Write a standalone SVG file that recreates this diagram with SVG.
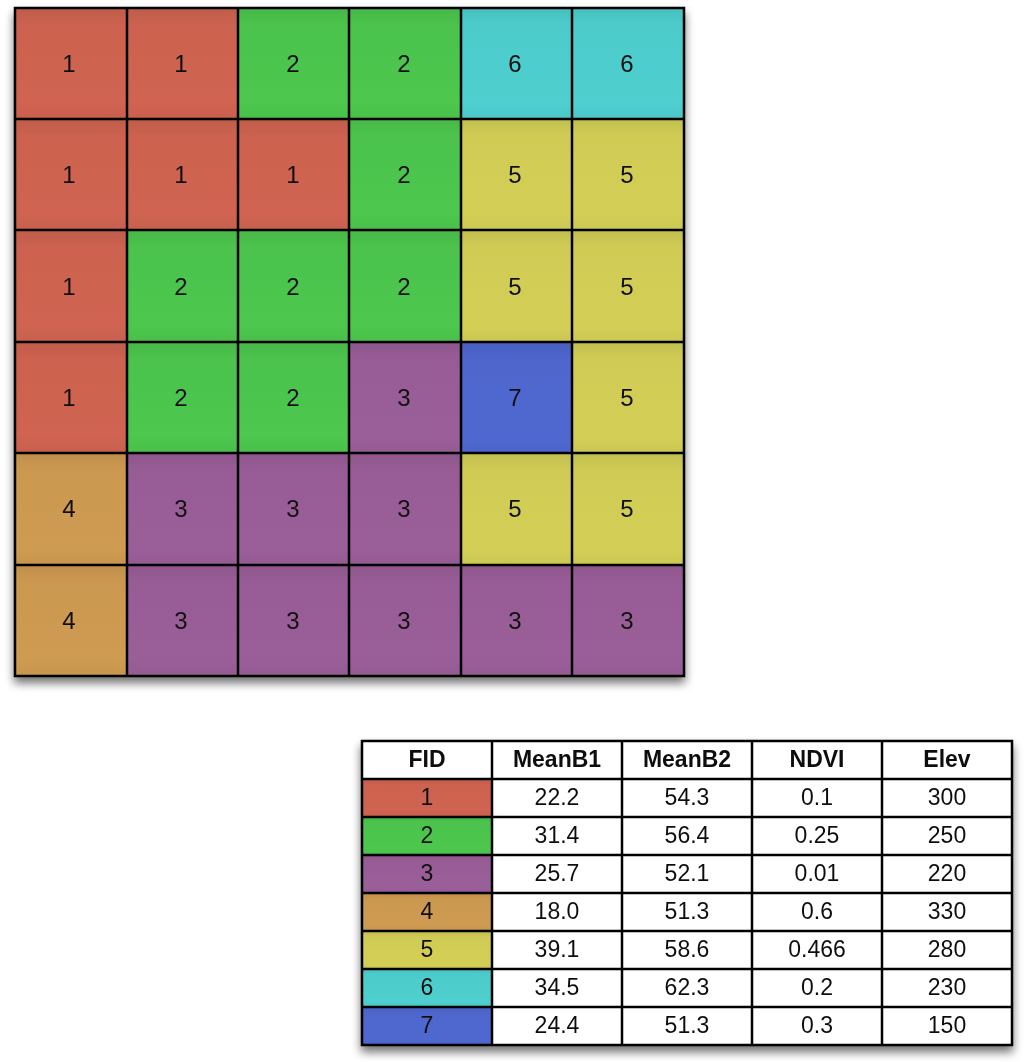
<svg xmlns="http://www.w3.org/2000/svg" width="1024" height="1062" viewBox="0 0 1024 1062">
<defs>
<filter id="shadow" x="-10%" y="-10%" width="120%" height="125%">
<feGaussianBlur in="SourceAlpha" stdDeviation="5"/>
<feOffset dx="0" dy="6"/>
<feComponentTransfer><feFuncA type="linear" slope="0.55"/></feComponentTransfer>
<feMerge><feMergeNode/><feMergeNode in="SourceGraphic"/></feMerge>
</filter>
<linearGradient id="shade" x1="0" y1="0" x2="0" y2="1">
<stop offset="0" stop-color="#000" stop-opacity="0.08"/>
<stop offset="0.15" stop-color="#000" stop-opacity="0.02"/>
<stop offset="0.85" stop-color="#000" stop-opacity="0"/>
<stop offset="1" stop-color="#000" stop-opacity="0.04"/>
</linearGradient>
</defs>
<style>
.c1{fill:#d06451}.c2{fill:#4dc74e}.c3{fill:#9a5e98}.c4{fill:#cf9b52}.c5{fill:#d3cf56}.c6{fill:#4fcfcf}.c7{fill:#5068d1}
.sh{fill:url(#shade)}
.ln{stroke:#000;stroke-width:2.5;fill:none}
.t{font-family:"Liberation Sans",Arial,sans-serif;font-size:24px;fill:#111;text-anchor:middle;dominant-baseline:central}
.s{font-size:23px}
.h{font-weight:bold}
.w{fill:#fff}
</style>
<g id="grid" filter="url(#shadow)">
<rect x="15" y="8" width="669" height="668" fill="#fff"/>
<g id="cells">
<rect class="c1" x="15" y="8" width="112" height="111"/><rect class="c1" x="127" y="8" width="111" height="111"/><rect class="c2" x="238" y="8" width="111" height="111"/><rect class="c2" x="349" y="8" width="112" height="111"/><rect class="c6" x="461" y="8" width="111" height="111"/><rect class="c6" x="572" y="8" width="112" height="111"/>
<rect class="c1" x="15" y="119" width="112" height="111"/><rect class="c1" x="127" y="119" width="111" height="111"/><rect class="c1" x="238" y="119" width="111" height="111"/><rect class="c2" x="349" y="119" width="112" height="111"/><rect class="c5" x="461" y="119" width="111" height="111"/><rect class="c5" x="572" y="119" width="112" height="111"/>
<rect class="c1" x="15" y="230" width="112" height="112"/><rect class="c2" x="127" y="230" width="111" height="112"/><rect class="c2" x="238" y="230" width="111" height="112"/><rect class="c2" x="349" y="230" width="112" height="112"/><rect class="c5" x="461" y="230" width="111" height="112"/><rect class="c5" x="572" y="230" width="112" height="112"/>
<rect class="c1" x="15" y="342" width="112" height="111"/><rect class="c2" x="127" y="342" width="111" height="111"/><rect class="c2" x="238" y="342" width="111" height="111"/><rect class="c3" x="349" y="342" width="112" height="111"/><rect class="c7" x="461" y="342" width="111" height="111"/><rect class="c5" x="572" y="342" width="112" height="111"/>
<rect class="c4" x="15" y="453" width="112" height="112"/><rect class="c3" x="127" y="453" width="111" height="112"/><rect class="c3" x="238" y="453" width="111" height="112"/><rect class="c3" x="349" y="453" width="112" height="112"/><rect class="c5" x="461" y="453" width="111" height="112"/><rect class="c5" x="572" y="453" width="112" height="112"/>
<rect class="c4" x="15" y="565" width="112" height="111"/><rect class="c3" x="127" y="565" width="111" height="111"/><rect class="c3" x="238" y="565" width="111" height="111"/><rect class="c3" x="349" y="565" width="112" height="111"/><rect class="c3" x="461" y="565" width="111" height="111"/><rect class="c3" x="572" y="565" width="112" height="111"/>
</g>
<g id="cellshade">
<rect class="sh" x="15" y="8" width="669" height="111"/>
<rect class="sh" x="15" y="119" width="669" height="111"/>
<rect class="sh" x="15" y="230" width="669" height="112"/>
<rect class="sh" x="15" y="342" width="669" height="111"/>
<rect class="sh" x="15" y="453" width="669" height="112"/>
<rect class="sh" x="15" y="565" width="669" height="111"/>
</g>
<g id="gridlines" class="ln">
<rect x="15" y="8" width="669" height="668"/>
<path d="M127 8V676M238 8V676M349 8V676M461 8V676M572 8V676M15 119H684M15 230H684M15 342H684M15 453H684M15 565H684"/>
</g>
<g id="labels">
<text class="t" x="69" y="63">1</text><text class="t" x="181" y="63">1</text><text class="t" x="293" y="63">2</text><text class="t" x="404" y="63">2</text><text class="t" x="515" y="63">6</text><text class="t" x="627" y="63">6</text>
<text class="t" x="69" y="174">1</text><text class="t" x="181" y="174">1</text><text class="t" x="293" y="174">1</text><text class="t" x="404" y="174">2</text><text class="t" x="515" y="174">5</text><text class="t" x="627" y="174">5</text>
<text class="t" x="69" y="286">1</text><text class="t" x="181" y="286">2</text><text class="t" x="293" y="286">2</text><text class="t" x="404" y="286">2</text><text class="t" x="515" y="286">5</text><text class="t" x="627" y="286">5</text>
<text class="t" x="69" y="397">1</text><text class="t" x="181" y="397">2</text><text class="t" x="293" y="397">2</text><text class="t" x="404" y="397">3</text><text class="t" x="515" y="397">7</text><text class="t" x="627" y="397">5</text>
<text class="t" x="69" y="508">4</text><text class="t" x="181" y="508">3</text><text class="t" x="293" y="508">3</text><text class="t" x="404" y="508">3</text><text class="t" x="515" y="508">5</text><text class="t" x="627" y="508">5</text>
<text class="t" x="69" y="620">4</text><text class="t" x="181" y="620">3</text><text class="t" x="293" y="620">3</text><text class="t" x="404" y="620">3</text><text class="t" x="515" y="620">3</text><text class="t" x="627" y="620">3</text>
</g>
</g>
<g id="table" filter="url(#shadow)">
<rect class="w" x="362" y="741" width="650" height="304"/>
<rect class="c1" x="362" y="779" width="130" height="38"/>
<rect class="c2" x="362" y="817" width="130" height="38"/>
<rect class="c3" x="362" y="855" width="130" height="38"/>
<rect class="c4" x="362" y="893" width="130" height="38"/>
<rect class="c5" x="362" y="931" width="130" height="38"/>
<rect class="c6" x="362" y="969" width="130" height="38"/>
<rect class="c7" x="362" y="1007" width="130" height="38"/>
<rect class="sh" x="362" y="779" width="130" height="38"/><rect class="sh" x="362" y="817" width="130" height="38"/><rect class="sh" x="362" y="855" width="130" height="38"/><rect class="sh" x="362" y="893" width="130" height="38"/><rect class="sh" x="362" y="931" width="130" height="38"/><rect class="sh" x="362" y="969" width="130" height="38"/><rect class="sh" x="362" y="1007" width="130" height="38"/>
<g class="ln">
<rect x="362" y="741" width="650" height="304"/>
<path d="M492 741V1045M622 741V1045M752 741V1045M882 741V1045M362 779H1012M362 817H1012M362 855H1012M362 893H1012M362 931H1012M362 969H1012M362 1007H1012"/>
</g>
<g id="header">
<text class="t s h" x="427" y="759">FID</text><text class="t s h" x="557" y="759">MeanB1</text><text class="t s h" x="687" y="759">MeanB2</text><text class="t s h" x="817" y="759">NDVI</text><text class="t s h" x="947" y="759">Elev</text>
</g>
<g id="rows">
<text class="t s" x="427" y="797">1</text><text class="t s" x="557" y="797">22.2</text><text class="t s" x="687" y="797">54.3</text><text class="t s" x="817" y="797">0.1</text><text class="t s" x="947" y="797">300</text>
<text class="t s" x="427" y="835">2</text><text class="t s" x="557" y="835">31.4</text><text class="t s" x="687" y="835">56.4</text><text class="t s" x="817" y="835">0.25</text><text class="t s" x="947" y="835">250</text>
<text class="t s" x="427" y="873">3</text><text class="t s" x="557" y="873">25.7</text><text class="t s" x="687" y="873">52.1</text><text class="t s" x="817" y="873">0.01</text><text class="t s" x="947" y="873">220</text>
<text class="t s" x="427" y="911">4</text><text class="t s" x="557" y="911">18.0</text><text class="t s" x="687" y="911">51.3</text><text class="t s" x="817" y="911">0.6</text><text class="t s" x="947" y="911">330</text>
<text class="t s" x="427" y="949">5</text><text class="t s" x="557" y="949">39.1</text><text class="t s" x="687" y="949">58.6</text><text class="t s" x="817" y="949">0.466</text><text class="t s" x="947" y="949">280</text>
<text class="t s" x="427" y="987">6</text><text class="t s" x="557" y="987">34.5</text><text class="t s" x="687" y="987">62.3</text><text class="t s" x="817" y="987">0.2</text><text class="t s" x="947" y="987">230</text>
<text class="t s" x="427" y="1025">7</text><text class="t s" x="557" y="1025">24.4</text><text class="t s" x="687" y="1025">51.3</text><text class="t s" x="817" y="1025">0.3</text><text class="t s" x="947" y="1025">150</text>
</g>
</g>
</svg>
